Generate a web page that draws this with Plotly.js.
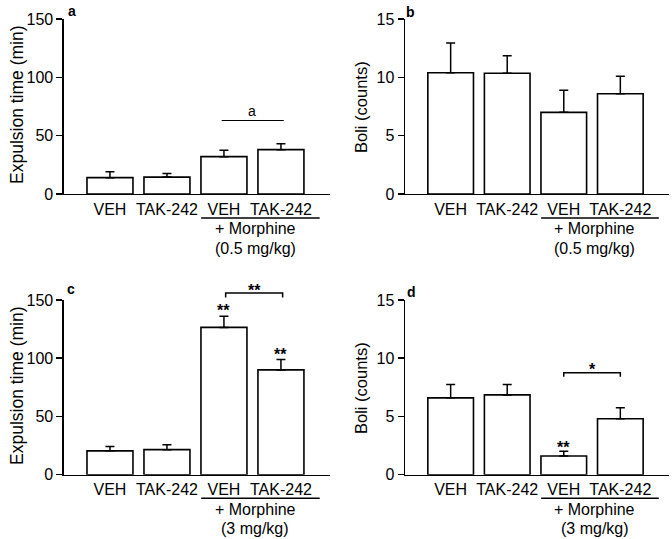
<!DOCTYPE html>
<html>
<head>
<meta charset="utf-8">
<script src="https://cdn.plot.ly/plotly-3.0.1.min.js"></script>
<style>
  html, body { margin: 0; padding: 0; background: #fff; }
  #plot { width: 672px; height: 539px; }
</style>
</head>
<body>
<div id="plot"></div>
<script>
// Groups on the x axis
let groups = ["VEH", "TAK-242", "VEH", "TAK-242"];
let xpos = [0, 1, 2, 3];

// a: expulsion time, morphine 0.5 mg/kg
let expLow = [14, 14.5, 32, 38];
let expLowErr = [5, 3, 5.5, 5];
// b: boli, morphine 0.5 mg/kg
let boliLow = [10.4, 10.35, 7.0, 8.6];
let boliLowErr = [2.55, 1.5, 1.9, 1.5];
// c: expulsion time, morphine 3 mg/kg
let expHigh = [20.5, 21.5, 126.5, 90];
let expHighErr = [3.7, 4.3, 9.5, 9];
// d: boli, morphine 3 mg/kg
let boliHigh = [6.6, 6.85, 1.6, 4.8];
let boliHighErr = [1.15, 0.9, 0.42, 0.95];

let font = "'Liberation Sans', Arial, sans-serif";

function barTrace(vals, errs, xa, ya) {
  return {
    x: xpos,
    y: vals,
    type: "bar",
    xaxis: xa,
    yaxis: ya,
    width: 0.807,
    marker: { color: "#fff", line: { color: "#000", width: 1.6 } },
    error_y: {
      type: "data",
      symmetric: false,
      array: errs,
      arrayminus: errs.map(() => 0),
      color: "#000",
      thickness: 1.5,
      width: 4.5
    },
    showlegend: false,
    hoverinfo: "y"
  };
}

let data = [
  barTrace(expLow, expLowErr, "x", "y"),
  barTrace(boliLow, boliLowErr, "x2", "y2"),
  barTrace(expHigh, expHighErr, "x3", "y3"),
  barTrace(boliHigh, boliHighErr, "x4", "y4")
];

function xax(dom, anchor) {
  return {
    domain: dom,
    anchor: anchor,
    range: [-0.807, 3.86],
    tickvals: xpos,
    ticktext: groups,
    ticks: "",
    showline: true,
    linecolor: "#000",
    linewidth: 1.5,
    showgrid: false,
    zeroline: false,
    tickfont: { family: font, size: 16, color: "#000" },
    fixedrange: true
  };
}

function yax(dom, anchor, max, step) {
  return {
    domain: dom,
    anchor: anchor,
    range: [0, max],
    tickvals: [0, step, 2 * step, 3 * step],
    ticks: "outside",
    ticklen: 6,
    tickwidth: 1.5,
    tickcolor: "#000",
    showline: true,
    linecolor: "#000",
    linewidth: 1.5,
    showgrid: false,
    zeroline: false,
    tickfont: { family: font, size: 16, color: "#000" },
    fixedrange: true
  };
}

let topRow = [0.6401, 0.9647];
let botRow = [0.1193, 0.4434];
let leftCol = [0.0952, 0.491];
let rightCol = [0.6027, 0.9955];

let annotations = [];
let shapes = [];

function txt(text, x, y, xref, yref, size, bold, extra) {
  let a = {
    text: bold ? "<b>" + text + "</b>" : text,
    x: x, y: y, xref: xref, yref: yref,
    showarrow: false,
    xanchor: "center", yanchor: "middle",
    font: { family: font, size: size, color: "#000" }
  };
  return Object.assign(a, extra || {});
}

// panel letters
annotations.push(txt("a", 72 / 672, 1 - 11 / 539, "paper", "paper", 14, true));
annotations.push(txt("b", 410 / 672, 1 - 12 / 539, "paper", "paper", 14, true));
annotations.push(txt("c", 71 / 672, 1 - 289 / 539, "paper", "paper", 14, true));
annotations.push(txt("d", 411 / 672, 1 - 292 / 539, "paper", "paper", 14, true));

// y axis titles
annotations.push(txt("Expulsion time (min)", 17 / 672, 1 - 105 / 539, "paper", "paper", 17.5, false, { textangle: -90 }));
annotations.push(txt("Boli (counts)", 361 / 672, 1 - 107 / 539, "paper", "paper", 16.5, false, { textangle: -90 }));
annotations.push(txt("Expulsion time (min)", 17 / 672, 1 - 386 / 539, "paper", "paper", 17.5, false, { textangle: -90 }));
annotations.push(txt("Boli (counts)", 361 / 672, 1 - 388 / 539, "paper", "paper", 16.5, false, { textangle: -90 }));

// morphine group labels
let doses = ["(0.5 mg/kg)", "(0.5 mg/kg)", "(3 mg/kg)", "(3 mg/kg)"];
let xrefs = ["x", "x2", "x3", "x4"];
let lineY = [218, 218, 498.3, 498.3];
for (let i = 0; i < 4; i++) {
  shapes.push({
    type: "line", xref: xrefs[i], yref: "paper",
    x0: 1.6, x1: 3.68, y0: 1 - lineY[i] / 539, y1: 1 - lineY[i] / 539,
    line: { color: "#000", width: 1.5 }
  });
  annotations.push(txt("+ Morphine", 2.55, 1 - (lineY[i] + 11) / 539, xrefs[i], "paper", 16, false));
  annotations.push(txt(doses[i], 2.55, 1 - (lineY[i] + 30) / 539, xrefs[i], "paper", 16, false));
}

// panel a: line with "a"
shapes.push({ type: "line", xref: "x", yref: "y", x0: 1.96, x1: 3.05, y0: 63, y1: 63, line: { color: "#000", width: 1.2 } });
annotations.push(txt("a", 2.5, 71, "x", "y", 14, false));

// panel c: stars and bracket
annotations.push(txt("**", 2, 141, "x3", "y3", 16, true));
annotations.push(txt("**", 3, 103, "x3", "y3", 16, true));
let cb = 1 - 293 / 539, cbt = 1 - 297.5 / 539;
shapes.push({ type: "path", xref: "x3", yref: "paper",
  path: "M 2.03," + cbt + " L 2.03," + cb + " L 3.03," + cb + " L 3.03," + cbt,
  line: { color: "#000", width: 1.5 } });
annotations.push(txt("**", 2.53, 1 - 290 / 539, "x3", "paper", 16, true));

// panel d: stars and bracket
annotations.push(txt("**", 2, 2.35, "x4", "y4", 16, true));
shapes.push({ type: "path", xref: "x4", yref: "y4",
  path: "M 2,8.41 L 2,8.76 L 3,8.76 L 3,8.41",
  line: { color: "#000", width: 1.5 } });
annotations.push(txt("*", 2.5, 9.07, "x4", "y4", 16, true));

let layout = {
  width: 672,
  height: 539,
  margin: { l: 0, r: 0, t: 0, b: 0 },
  paper_bgcolor: "#fff",
  plot_bgcolor: "#fff",
  font: { family: font, color: "#000" },
  bargap: 0,
  xaxis: xax(leftCol, "y"),
  yaxis: yax(topRow, "x", 150, 50),
  xaxis2: xax(rightCol, "y2"),
  yaxis2: yax(topRow, "x2", 15, 5),
  xaxis3: xax(leftCol, "y3"),
  yaxis3: yax(botRow, "x3", 150, 50),
  xaxis4: xax(rightCol, "y4"),
  yaxis4: yax(botRow, "x4", 15, 5),
  annotations: annotations,
  shapes: shapes
};

Plotly.newPlot("plot", data, layout, { staticPlot: true });
</script>
</body>
</html>
